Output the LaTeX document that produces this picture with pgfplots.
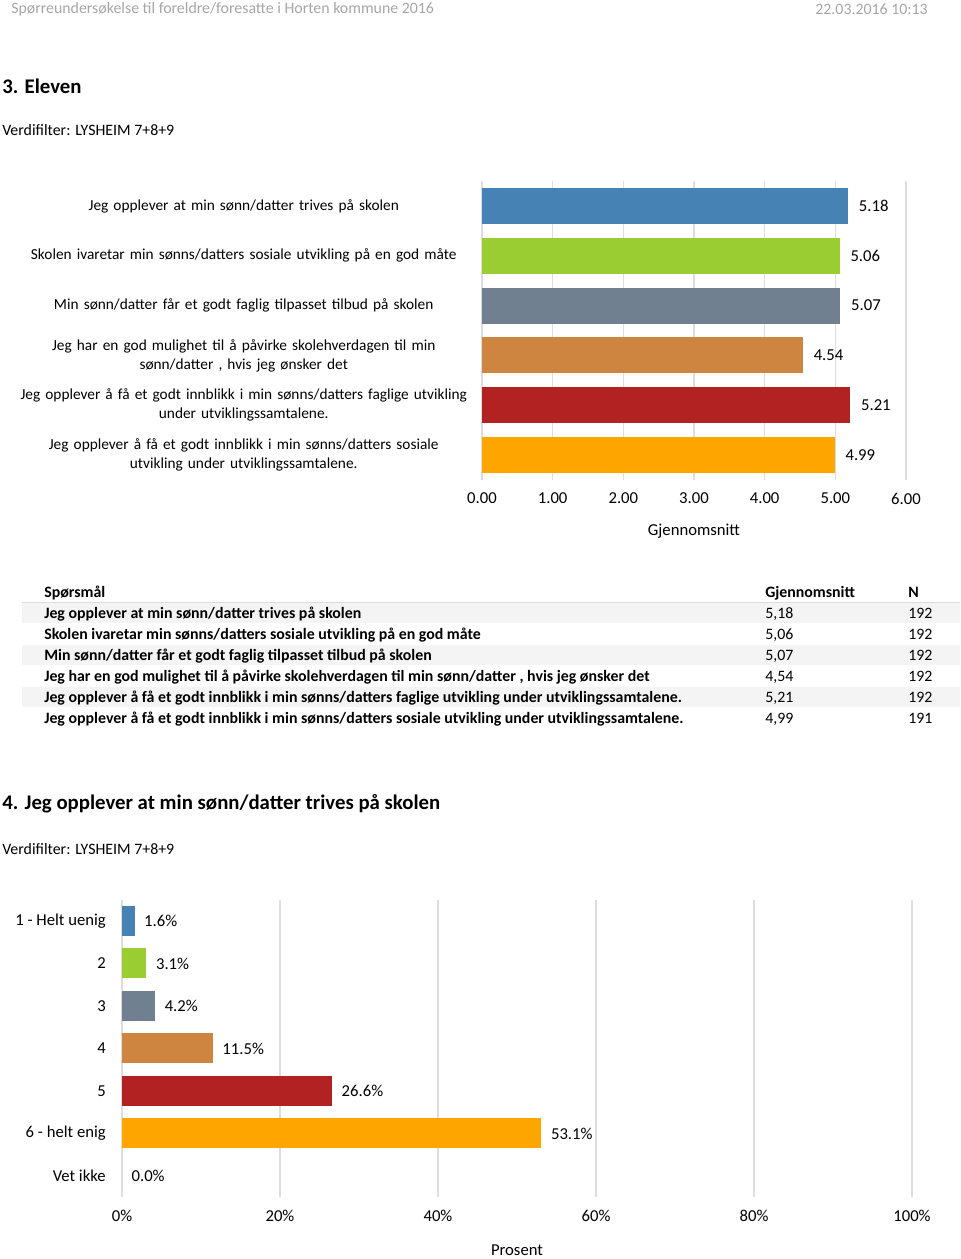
\documentclass[border=0pt]{standalone}
\usepackage{fontspec}
\setmainfont{Carlito}
\usepackage{pgfplots}
\pgfplotsset{compat=1.18}

\definecolor{c1}{HTML}{4682B4}
\definecolor{c2}{HTML}{9ACD32}
\definecolor{c3}{HTML}{708090}
\definecolor{c4}{HTML}{CD853F}
\definecolor{c5}{HTML}{B22222}
\definecolor{c6}{HTML}{FFA500}
\definecolor{gridc}{HTML}{DDDDDD}
\definecolor{headc}{HTML}{A6A6A6}
\definecolor{rowc}{HTML}{F4F4F4}

\newcommand\txt{\fontsize{11.9}{14.5}\selectfont}
\newcommand\ctxt{\fontsize{12.5}{15}\selectfont}
\newcommand\ltxt{\fontsize{11.5}{14.25}\selectfont}

% common look of both bar charts
\pgfplotsset{hbars/.style={
  xbar, bar shift=0pt, scale only axis,
  axis line style={draw=none}, major tick length=0pt,
  xmajorgrids, grid style={gridc, line width=1pt},
  y dir=reverse, point meta=x,
  /pgf/number format/assume math mode=true,
  tick label style={font=\ctxt},
  xticklabel style={inner sep=0pt, yshift=-9.5pt},
  every axis plot/.append style={draw=none},
  nodes near coords,
  every node near coord/.append style={anchor=west, inner sep=0pt, font=\ctxt, text=black},
  xlabel style={font=\ctxt, anchor=center},
}}

\begin{document}
\begin{tikzpicture}
\useasboundingbox (0,0) rectangle (720pt,-944.25pt);

% page header
\node[anchor=west, inner sep=0, text=headc, font=\txt] at (8.25pt,-6.75pt)
  {Spørreundersøkelse til foreldre/foresatte i Horten kommune 2016};
\node[anchor=east, inner sep=0, text=headc, font=\txt] at (696pt,-6.75pt) {22.03.2016 10:13};

\node[anchor=west, inner sep=0, font=\fontsize{15.6}{18}\selectfont\bfseries] at (1.5pt,-64.5pt) {3. Eleven};
\node[anchor=west, inner sep=0, font=\txt] at (1.5pt,-97.5pt) {Verdifilter: LYSHEIM 7+8+9};

% chart 1: averages
\begin{axis}[hbars,
  at={(361.5pt,-135.75pt)}, anchor=north west,
  width=318pt, height=224.25pt,
  xmin=0, xmax=6, ymin=-0.5, ymax=5.5,
  bar width=27pt,
  xtick={0,...,6},
  xticklabel={\pgfmathprintnumber[fixed,zerofill,precision=2]{\tick}},
  nodes near coords={\pgfmathprintnumber[fixed,zerofill,precision=2]{\pgfplotspointmeta}},
  every node near coord/.append style={xshift=8pt},
  ytick={0,...,5},
  yticklabels={
    Jeg opplever at min sønn/datter trives på skolen,
    Skolen ivaretar min sønns/datters sosiale utvikling på en god måte,
    Min sønn/datter får et godt faglig tilpasset tilbud på skolen,
    {Jeg har en god mulighet til å påvirke skolehverdagen til min\\sønn/datter , hvis jeg ønsker det},
    {Jeg opplever å få et godt innblikk i min sønns/datters faglige utvikling\\under utviklingssamtalene.},
    {Jeg opplever å få et godt innblikk i min sønns/datters sosiale\\utvikling under utviklingssamtalene.}},
  yticklabel style={font=\ltxt, anchor=east, text width=352.5pt, align=center, inner sep=0pt, xshift=-2.25pt},
  xlabel={Gjennomsnitt},
  xlabel style={at={(axis description cs:0.5,-0.1706)}},
]
\addplot[fill=c1] coordinates {(5.18,0)};
\addplot[fill=c2] coordinates {(5.06,1)};
\addplot[fill=c3] coordinates {(5.07,2)};
\addplot[fill=c4] coordinates {(4.54,3)};
\addplot[fill=c5] coordinates {(5.21,4)};
\addplot[fill=c6] coordinates {(4.99,5)};
\end{axis}

% table
\fill[rowc] (16.5pt,-451.9pt) rectangle (720pt,-467.6pt);
\fill[rowc] (16.5pt,-483.4pt) rectangle (720pt,-499.1pt);
\fill[rowc] (16.5pt,-514.9pt) rectangle (720pt,-530.6pt);
\draw[gridc, line width=0.6pt] (16.5pt,-451.9pt) -- (720pt,-451.9pt);
\begin{scope}[every node/.style={anchor=base west, inner sep=0, font=\txt\bfseries}]
\node at (33pt,-448pt) {Spørsmål};
\node at (573.75pt,-448pt) {Gjennomsnitt};
\node at (681pt,-448pt) {N};
\node at (33pt,-463.75pt) {Jeg opplever at min sønn/datter trives på skolen};
\node at (33pt,-479.5pt) {Skolen ivaretar min sønns/datters sosiale utvikling på en god måte};
\node at (33pt,-495.25pt) {Min sønn/datter får et godt faglig tilpasset tilbud på skolen};
\node at (33pt,-511pt) {Jeg har en god mulighet til å påvirke skolehverdagen til min sønn/datter , hvis jeg ønsker det};
\node at (33pt,-526.75pt) {Jeg opplever å få et godt innblikk i min sønns/datters faglige utvikling under utviklingssamtalene.};
\node at (33pt,-542.5pt) {Jeg opplever å få et godt innblikk i min sønns/datters sosiale utvikling under utviklingssamtalene.};
\end{scope}
\begin{scope}[every node/.style={anchor=base west, inner sep=0, font=\txt}]
\node at (573.75pt,-463.75pt) {5,18};  \node at (681pt,-463.75pt) {192};
\node at (573.75pt,-479.5pt) {5,06};   \node at (681pt,-479.5pt) {192};
\node at (573.75pt,-495.25pt) {5,07};  \node at (681pt,-495.25pt) {192};
\node at (573.75pt,-511pt) {4,54};     \node at (681pt,-511pt) {192};
\node at (573.75pt,-526.75pt) {5,21};  \node at (681pt,-526.75pt) {192};
\node at (573.75pt,-542.5pt) {4,99};   \node at (681pt,-542.5pt) {191};
\end{scope}

\node[anchor=west, inner sep=0, font=\fontsize{15.6}{18}\selectfont\bfseries] at (1.5pt,-603pt)
  {4. Jeg opplever at min sønn/datter trives på skolen};
\node[anchor=west, inner sep=0, font=\txt] at (1.5pt,-636.75pt) {Verdifilter: LYSHEIM 7+8+9};

% chart 2: distribution
\begin{axis}[hbars,
  at={(91.5pt,-674.8pt)}, anchor=north west,
  width=592.5pt, height=223.1pt,
  xmin=0, xmax=100, ymin=-0.5, ymax=6.5,
  bar width=22.5pt,
  xtick={0,20,...,100},
  xticklabel={\pgfmathprintnumber{\tick}\%},
  nodes near coords={\pgfmathprintnumber[fixed,zerofill,precision=1]{\pgfplotspointmeta}\%},
  every node near coord/.append style={xshift=7pt},
  ytick={0,...,6},
  yticklabels={1 - Helt uenig,2,3,4,5,6 - helt enig,Vet ikke},
  yticklabel style={anchor=east, inner sep=0pt, xshift=-12pt},
  xlabel={Prosent},
  xlabel style={at={(axis description cs:0.5,-0.178)}},
]
\addplot[fill=c1] coordinates {(1.6,0)};
\addplot[fill=c2] coordinates {(3.1,1)};
\addplot[fill=c3] coordinates {(4.2,2)};
\addplot[fill=c4] coordinates {(11.5,3)};
\addplot[fill=c5] coordinates {(26.6,4)};
\addplot[fill=c6] coordinates {(53.1,5)};
\addplot[fill=none] coordinates {(0,6)};
\end{axis}
\end{tikzpicture}
\end{document}
